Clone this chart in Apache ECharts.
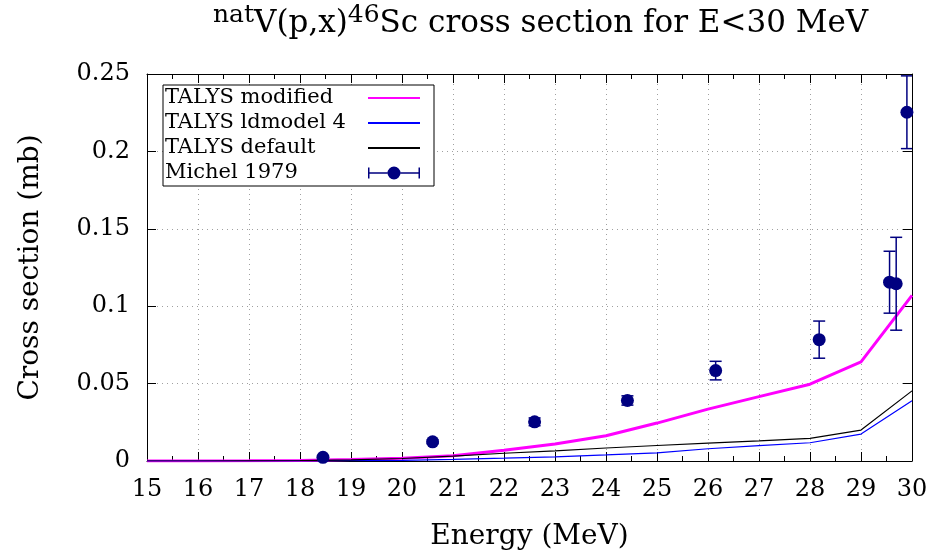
<!DOCTYPE html>
<html>
<head>
<meta charset="utf-8">
<script src="https://cdn.jsdelivr.net/npm/echarts@6/dist/echarts.min.js"></script>
<style>html,body{margin:0;padding:0;background:#fff;}#chart{width:933px;height:556px;}</style>
</head>
<body>
<div id="chart"></div>
<script>
// ---- data ----
var energies = [15, 16, 17, 18, 19, 20, 21, 22, 23, 24, 25, 26, 27, 28, 29, 30];
var talysModified = [0, 0, 0.0001, 0.0004, 0.001, 0.0018, 0.0034, 0.0069, 0.011, 0.0163, 0.0245, 0.0335, 0.0416, 0.0496, 0.064, 0.107];
var talysLdmodel4 = [0, 0, 0, 0.0001, 0.0002, 0.0004, 0.001, 0.0018, 0.0027, 0.0039, 0.0052, 0.0079, 0.0099, 0.0118, 0.0174, 0.0389];
var talysDefault = [0, 0, 0.0001, 0.0003, 0.0007, 0.0016, 0.0032, 0.005, 0.0065, 0.0084, 0.01, 0.0116, 0.013, 0.0146, 0.020, 0.0453];
var michelE = [18.45, 20.6, 22.6, 24.42, 26.15, 28.18, 29.56, 29.69, 29.9];
var michelXS = [0.0024, 0.0124, 0.0253, 0.0391, 0.0584, 0.0784, 0.1155, 0.1145, 0.2253];
var michelErr = [0.0003, 0.0012, 0.0025, 0.003, 0.006, 0.012, 0.02, 0.03, 0.0235];
var xTicks = [15, 30, 1];     // min, max, step
var yTicks = [0, 0.25, 0.05]; // min, max, step

var FONT = 'DejaVu Serif';
function pairs(xs, ys) { return xs.map(function (x, i) { return [x, ys[i]]; }); }

var chart = echarts.init(document.getElementById('chart'), null, {renderer: 'canvas'});

var gridLine = {show: true, lineStyle: {color: '#a0a0a0', width: 1, type: [1, 4]}};
var axisLine = {show: true, onZero: false, lineStyle: {color: '#000', width: 1}};
var tickStyle = {show: true, inside: true, length: 9, lineStyle: {color: '#000', width: 1}};

var michelIcon = 'path://M0,1h1.5v11h-1.5z M50.5,1h1.5v11h-1.5z M1.5,5.8h18v1.4h-18z M32.5,5.8h18v1.4h-18z M19.5,6.5a6.5,6.5 0 1,0 13,0a6.5,6.5 0 1,0 -13,0z';

var option = {
  backgroundColor: '#fff',
  animation: false,
  title: {
    left: 213, top: 3, padding: 0,
    text: '{sup|nat}{b|V(p,x)}{sup|46}{b|Sc cross section for E<30 MeV}',
    textStyle: {
      fontFamily: FONT, color: '#000', fontWeight: 'normal',
      rich: {
        b: {fontFamily: FONT, fontSize: 31, lineHeight: 42, color: '#000'},
        sup: {fontFamily: FONT, fontSize: 25, lineHeight: 16, verticalAlign: 'top', color: '#000'}
      }
    }
  },
  legend: {
    orient: 'vertical', left: 163, top: 85,
    padding: [1, 13, 1, 2],
    itemGap: 1, itemWidth: 52, itemHeight: 13,
    align: 'right',
    backgroundColor: '#fff', borderColor: '#000', borderWidth: 1,
    selectedMode: false,
    formatter: function (name) { return '{t|' + name + '}'; },
    textStyle: {
      fontFamily: FONT, fontSize: 21, color: '#000', lineHeight: 24,
      rich: {t: {fontFamily: FONT, fontSize: 21, width: 198, height: 24, lineHeight: 24, align: 'left', color: '#000'}}
    },
    data: [
      {name: 'TALYS modified', itemStyle: {opacity: 0}},
      {name: 'TALYS ldmodel 4', itemStyle: {opacity: 0}},
      {name: 'TALYS default', itemStyle: {opacity: 0}},
      {name: 'Michel 1979', icon: michelIcon}
    ]
  },
  grid: {left: 147, right: 21, top: 74, bottom: 94, containLabel: false},
  xAxis: [{
    type: 'value', min: xTicks[0], max: xTicks[1], interval: xTicks[2],
    name: 'Energy (MeV)', nameLocation: 'middle', nameGap: 62,
    nameTextStyle: {fontFamily: FONT, fontSize: 28, color: '#000'},
    axisLine: axisLine, axisTick: tickStyle,
    minorTick: {show: true, splitNumber: 2, length: 5, lineStyle: {color: '#000', width: 1}},
    axisLabel: {fontFamily: FONT, fontSize: 24, color: '#000', margin: 17},
    splitLine: gridLine
  }, {
    type: 'value', position: 'top', min: xTicks[0], max: xTicks[1], interval: xTicks[2],
    axisLine: axisLine, axisTick: tickStyle,
    minorTick: {show: true, splitNumber: 2, length: 5, lineStyle: {color: '#000', width: 1}},
    axisLabel: {show: false}, splitLine: {show: false}
  }],
  yAxis: [{
    type: 'value', min: yTicks[0], max: yTicks[1], interval: yTicks[2],
    name: 'Cross section (mb)', nameLocation: 'middle', nameGap: 102,
    nameTextStyle: {fontFamily: FONT, fontSize: 28, color: '#000'},
    axisLine: axisLine, axisTick: tickStyle,
    axisLabel: {fontFamily: FONT, fontSize: 24, color: '#000', margin: 17},
    splitLine: gridLine
  }, {
    type: 'value', position: 'right', min: yTicks[0], max: yTicks[1], interval: yTicks[2],
    axisLine: axisLine, axisTick: tickStyle,
    axisLabel: {show: false}, splitLine: {show: false}
  }],
  series: [
    {name: 'TALYS modified', type: 'line', data: pairs(energies, talysModified), symbol: 'none',
     lineStyle: {color: '#ff00ff', width: 3}, itemStyle: {color: '#ff00ff'}, z: 2},
    {name: 'TALYS ldmodel 4', type: 'line', data: pairs(energies, talysLdmodel4), symbol: 'none',
     lineStyle: {color: '#0000ff', width: 1.2}, itemStyle: {color: '#0000ff'}, z: 3},
    {name: 'TALYS default', type: 'line', data: pairs(energies, talysDefault), symbol: 'none',
     lineStyle: {color: '#000000', width: 1.2}, itemStyle: {color: '#000000'}, z: 4},
    {name: 'Michel 1979 errors', type: 'custom', z: 5, clip: true,
     data: michelE.map(function (e, i) { return [e, michelXS[i], michelErr[i]]; }),
     renderItem: function (params, api) {
       var x = api.value(0), y = api.value(1), d = api.value(2);
       var top = api.coord([x, y + d]), bot = api.coord([x, y - d]);
       var s = {stroke: '#000080', lineWidth: 1.5};
       return {type: 'group', children: [
         {type: 'line', shape: {x1: top[0], y1: top[1], x2: bot[0], y2: bot[1]}, style: s},
         {type: 'line', shape: {x1: top[0] - 6, y1: top[1], x2: top[0] + 6, y2: top[1]}, style: s},
         {type: 'line', shape: {x1: bot[0] - 6, y1: bot[1], x2: bot[0] + 6, y2: bot[1]}, style: s}
       ]};
     }
    },
    {name: 'Michel 1979', type: 'scatter', data: pairs(michelE, michelXS), symbol: 'circle', symbolSize: 13,
     itemStyle: {color: '#000080', opacity: 1}, z: 6}
  ]
};
chart.setOption(option);
</script>
</body>
</html>
